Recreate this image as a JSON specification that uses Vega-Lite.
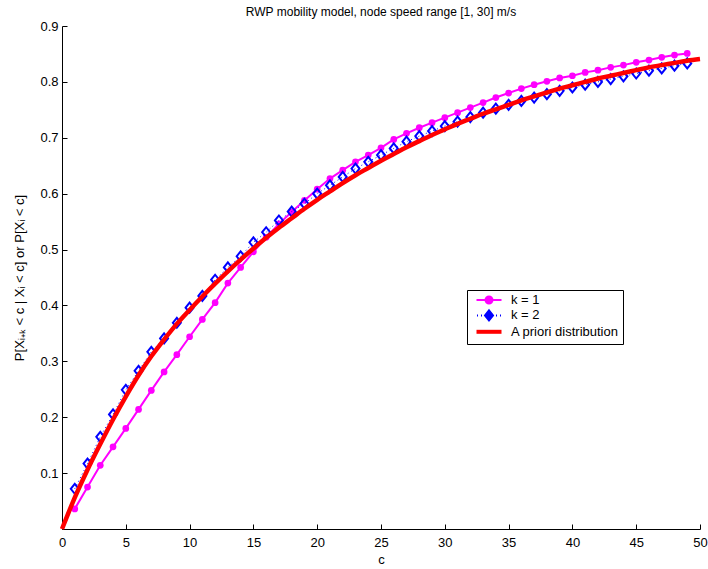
{
  "$schema": "https://vega.github.io/schema/vega-lite/v6.json",
  "autosize": "none",
  "padding": {"left": 62, "top": 26, "right": 8, "bottom": 40},
  "width": 638,
  "height": 503,
  "background": "white",
  "config": {
    "font": "Liberation Sans",
    "view": {"stroke": null},
    "axis": {"grid": false, "domainColor": "black", "tickColor": "black", "labelColor": "black", "titleColor": "black", "labelFontSize": 13, "titleFontSize": 13, "titleFontWeight": "normal", "tickSize": -5, "domainWidth": 1, "tickWidth": 1}
  },
  "title": {"text": "RWP mobility model, node speed range [1, 30] m/s", "fontSize": 12, "fontWeight": "normal", "color": "black", "anchor": "middle", "offset": 1},
  "datasets": {
    "k1": [
      {"c":1,"v":0.036},{"c":2,"v":0.075},{"c":3,"v":0.114},{"c":4,"v":0.147},{"c":5,"v":0.180},{"c":6,"v":0.214},{"c":7,"v":0.248},{"c":8,"v":0.281},{"c":9,"v":0.312},{"c":10,"v":0.344},
      {"c":11,"v":0.375},{"c":12,"v":0.405},{"c":13,"v":0.440},{"c":14,"v":0.468},{"c":15,"v":0.496},{"c":16,"v":0.522},{"c":17,"v":0.546},{"c":18,"v":0.567},{"c":19,"v":0.588},{"c":20,"v":0.608},
      {"c":21,"v":0.627},{"c":22,"v":0.642},{"c":23,"v":0.657},{"c":24,"v":0.669},{"c":25,"v":0.682},{"c":26,"v":0.697},{"c":27,"v":0.708},{"c":28,"v":0.718},{"c":29,"v":0.727},{"c":30,"v":0.736},
      {"c":31,"v":0.745},{"c":32,"v":0.754},{"c":33,"v":0.763},{"c":34,"v":0.772},{"c":35,"v":0.780},{"c":36,"v":0.788},{"c":37,"v":0.795},{"c":38,"v":0.801},{"c":39,"v":0.807},{"c":40,"v":0.811},
      {"c":41,"v":0.817},{"c":42,"v":0.821},{"c":43,"v":0.826},{"c":44,"v":0.830},{"c":45,"v":0.835},{"c":46,"v":0.839},{"c":47,"v":0.844},{"c":48,"v":0.848},{"c":49,"v":0.851}
    ],
    "k2": [
      {"c":1,"v":0.072},{"c":2,"v":0.117},{"c":3,"v":0.165},{"c":4,"v":0.205},{"c":5,"v":0.249},{"c":6,"v":0.283},{"c":7,"v":0.317},{"c":8,"v":0.341},{"c":9,"v":0.369},{"c":10,"v":0.396},
      {"c":11,"v":0.417},{"c":12,"v":0.446},{"c":13,"v":0.468},{"c":14,"v":0.488},{"c":15,"v":0.513},{"c":16,"v":0.531},{"c":17,"v":0.552},{"c":18,"v":0.568},{"c":19,"v":0.582},{"c":20,"v":0.600},
      {"c":21,"v":0.615},{"c":22,"v":0.630},{"c":23,"v":0.645},{"c":24,"v":0.657},{"c":25,"v":0.669},{"c":26,"v":0.681},{"c":27,"v":0.693},{"c":28,"v":0.703},{"c":29,"v":0.712},{"c":30,"v":0.721},
      {"c":31,"v":0.729},{"c":32,"v":0.737},{"c":33,"v":0.745},{"c":34,"v":0.752},{"c":35,"v":0.759},{"c":36,"v":0.766},{"c":37,"v":0.772},{"c":38,"v":0.778},{"c":39,"v":0.784},{"c":40,"v":0.790},
      {"c":41,"v":0.795},{"c":42,"v":0.800},{"c":43,"v":0.805},{"c":44,"v":0.810},{"c":45,"v":0.815},{"c":46,"v":0.820},{"c":47,"v":0.824},{"c":48,"v":0.829},{"c":49,"v":0.833}
    ],
    "ap": [
      {"c":0,"v":0},{"c":1,"v":0.056},{"c":2,"v":0.106},{"c":3,"v":0.152},{"c":4,"v":0.196},{"c":5,"v":0.237},{"c":6,"v":0.275},{"c":7,"v":0.309},{"c":8,"v":0.339},{"c":9,"v":0.367},{"c":10,"v":0.392},
      {"c":11,"v":0.416},{"c":12,"v":0.439},{"c":13,"v":0.461},{"c":14,"v":0.482},{"c":15,"v":0.502},{"c":16,"v":0.521},{"c":17,"v":0.539},{"c":18,"v":0.556},{"c":19,"v":0.573},{"c":20,"v":0.589},
      {"c":21,"v":0.604},{"c":22,"v":0.619},{"c":23,"v":0.633},{"c":24,"v":0.646},{"c":25,"v":0.659},{"c":26,"v":0.671},{"c":27,"v":0.683},{"c":28,"v":0.694},{"c":29,"v":0.705},{"c":30,"v":0.715},
      {"c":31,"v":0.725},{"c":32,"v":0.734},{"c":33,"v":0.743},{"c":34,"v":0.751},{"c":35,"v":0.759},{"c":36,"v":0.767},{"c":37,"v":0.774},{"c":38,"v":0.781},{"c":39,"v":0.788},{"c":40,"v":0.794},
      {"c":41,"v":0.800},{"c":42,"v":0.806},{"c":43,"v":0.811},{"c":44,"v":0.816},{"c":45,"v":0.821},{"c":46,"v":0.826},{"c":47,"v":0.830},{"c":48,"v":0.834},{"c":49,"v":0.838},{"c":50,"v":0.841}
    ]
  },
  "encoding": {
    "x": {"field": "c", "type": "quantitative", "scale": {"domain": [0, 50], "nice": false, "zero": false},
          "axis": {"title": "c", "values": [0,5,10,15,20,25,30,35,40,45,50], "labelPadding": 12, "titlePadding": 4, "labelFlush": false}},
    "y": {"field": "v", "type": "quantitative", "scale": {"domain": [0, 0.9], "nice": false},
          "axis": {"title": "P[Xᵢ₊ₖ < c | Xᵢ < c] or P[Xᵢ < c]", "values": [0.1,0.2,0.3,0.4,0.5,0.6,0.7,0.8,0.9], "format": ".1f", "labelPadding": 9, "titlePadding": 13, "labelFlush": false}},
    "color": {"field": "s", "type": "nominal",
      "scale": {"domain": ["k = 1", "k = 2", "A priori distribution"], "range": ["#ff00ff", "#0000ff", "#ff0000"]},
      "legend": {
        "title": null, "orient": "none", "legendX": 405, "legendY": 264,
        "strokeColor": "black", "fillColor": "white", "padding": 3.5, "cornerRadius": 0,
        "rowPadding": -1.6, "symbolSize": 100, "symbolOffset": 12, "labelOffset": 15.5,
        "labelFontSize": 13, "labelColor": "black", "labelFont": "Liberation Sans",
        "encode": {"symbols": {"update": {
          "shape": {"signal": "datum.value === 'k = 1' ? 'M-2.5,0H2.5M0.7,0A0.7,0.7 0 1,1 -0.7,0A0.7,0.7 0 1,1 0.7,0Z' : datum.value === 'k = 2' ? 'M-2.4,0H-2.2M-1.6,0H-1.4M1.4,0H1.6M2.2,0H2.4M0,-1L0.8,0L0,1L-0.8,0Z' : 'M-2.5,0H2.5'"},
          "fill": {"signal": "datum.value === 'k = 1' ? '#ff00ff' : 'transparent'"},
          "stroke": {"signal": "datum.value === 'k = 1' ? '#ff00ff' : datum.value === 'k = 2' ? '#0000ff' : '#ff0000'"},
          "strokeWidth": {"signal": "datum.value === 'A priori distribution' ? 4 : 2"},
          "opacity": {"value": 1}
        }}}
      }}
  },
  "layer": [
    {"data": {"name": "k1"}, "transform": [{"calculate": "'k = 1'", "as": "s"}],
     "mark": {"type": "line", "strokeWidth": 2, "clip": false}},
    {"data": {"name": "k1"}, "transform": [{"calculate": "'k = 1'", "as": "s"}],
     "mark": {"type": "point", "shape": "circle", "filled": true, "size": 45, "opacity": 1}},
    {"data": {"name": "k2"}, "transform": [{"calculate": "'k = 2'", "as": "s"}],
     "mark": {"type": "line", "strokeWidth": 1, "strokeDash": [1, 3]}},
    {"data": {"name": "k2"}, "transform": [{"calculate": "'k = 2'", "as": "s"}],
     "mark": {"type": "point", "shape": "M-0.8,0L0,-1L0.8,0L0,1Z", "filled": false, "size": 100, "strokeWidth": 2, "opacity": 1}},
    {"data": {"name": "ap"}, "transform": [{"calculate": "'A priori distribution'", "as": "s"}],
     "mark": {"type": "line", "strokeWidth": 4.5, "interpolate": "monotone"}}
  ]
}
